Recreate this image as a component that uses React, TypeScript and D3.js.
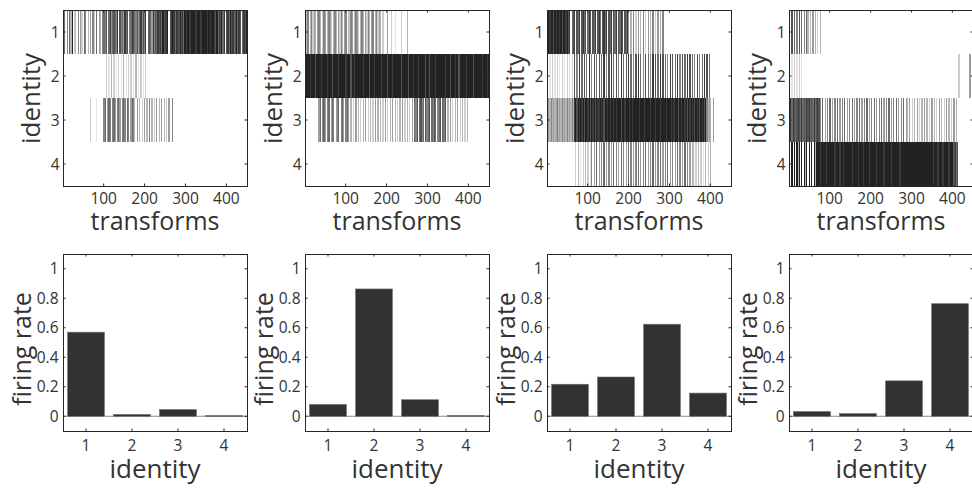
import React from "react";
import * as d3 from "d3";

// ---------- data ----------
const N_TRANSFORMS = 450;
const BIN = 3; // each raster character covers 3 consecutive transforms
const z = (n: number) => "0".repeat(n);

const transformTicks = [100, 200, 300, 400];
const identities = [1, 2, 3, 4];
const rateTicks = [0, 0.2, 0.4, 0.6, 0.8, 1];

// response intensity (0 = none, 9 = maximal) per identity row, per 3-transform bin
const raster1 = [
  "4605063902" + "30504206503040520604305" + "6570684676" + "5807564867" + "0568765746" + "8575806764" + "8576" +
    "8786978890" + "7898688797" + "8698" + "9989999899" + "9899998998" + "99" + "8796879680" + "7869786796" + "8706879",
  z(35) + "2010302010" + "2010301020" + "2010301020" + "1020" + z(81),
  z(22) + "20000100000" + "5604650564" + "0564056506" + "50465" + "3040302040" + "3050302040" + "3040302040" + "05" + z(60),
  z(150),
];
const raster2 = [
  "4350352430" + "4530254035" + "4203530425" + "3045032540" + "3542035304" + "2530450352" + "43" +
    "0200040020" + "0100002000" + "03" + z(66),
  "9999899979" + "9998999989" + "9979999899" + "9998999799" + "8999999899" + "9979998999" + "9989999799" +
    "9899999979" + "9999799989" + "9989999979" + "9799998999" + "9999899979" + "9989979999" + "9899999799" + "9999899989",
  z(11) + "4605640560" + "4650456056" + "405640" + "3020403020" + "3040203020" + "4030302040" + "2030403020" +
    "3040203020" + "40" + "6570675607" + "5670657605" + "6706570" + "3040203040" + "20302030" + z(16),
  z(150),
];
const raster3 = [
  "9989979899" + "8979989" + "7806780768" + "0786706870" + "7680786078" + "6807680768" + "076870768" +
    "4030502040" + "3050204030" + "5020403050" + z(54),
  "2010201020" + "1020102010" + "20" + "7050806070" + "6080507060" + "7060805070" + "8060705080" + "6070806050" +
    "7080605070" + "6050807060" + "8070605080" + "7060805070" + "6080706050" + "7050608070" + "60" + z(16),
  "3435343453" + "4353435343" + "53" + "8979898979" + "9897989798" + "8989799898" + "9989899979" + "9899989899" +
    "9998999899" + "9989998999" + "8999989998" + "9899979899" + "8979898979" + "89798979" + "5343040" + z(13),
  z(23) + "2030102030201" + "5040604050" + "6040504060" + "5040605040" + "6050405060" + "4050604050" +
    "6040506040" + "5060405040" + "6050406050" + "403" + "302030201030203" + z(16),
];
const raster4 = [
  "6070605070" + "60506" + "303040302030" + z(123),
  "201020102010" + z(126) + "2" + z(8) + "4" + "00",
  "7868767876" + "8676878676" + "86787" + "5060405060" + "4050604050" + "6040506040" + "5060405060" +
    "4050604050" + "6040506040" + "5060405060" + "4" + "3040203040" + "2030403020" + "4030204030" + "2040302040" + "3" + z(13),
  "9090909390" + "9093909090" + "939" + "9989999899" + "9999899989" + "9899999989" + "9998999899" + "9989999989" +
    "9999899999" + "8999999899" + "9999999999" + "9999999999" + "9999899989" + "9989999899" + "97867" + z(12),
];

const rates1 = [0.57, 0.012, 0.045, 0.004];
const rates2 = [0.08, 0.863, 0.112, 0.005];
const rates3 = [0.217, 0.266, 0.624, 0.157];
const rates4 = [0.032, 0.018, 0.24, 0.763];

const rasters = [raster1, raster2, raster3, raster4];
const rates = [rates1, rates2, rates3, rates4];

// ---------- layout ----------
const PANEL_LEFT = [63, 305, 547, 789];
const PANEL_W = 184;
const TOP = { y0: 10, y1: 186 };
const BOT = { y0: 254, y1: 431 };
const FONT = "'Open Sans', sans-serif";
const INK = "#262626";
const TEXT = "#333333";
const TICK = 2.5;
const TICK_FS = 15.5;
const LABEL_FS = 25;
const WEIGHT = 400;

const grayOf = (v: number) => {
  const g = Math.round(255 - (v * (255 - 34)) / 9);
  return d3.rgb(g, g, g).toString();
};

function Box({ x0, x1, y0, y1 }: { x0: number; x1: number; y0: number; y1: number }) {
  return (
    <rect x={x0 + 0.5} y={y0 + 0.5} width={x1 - x0} height={y1 - y0} fill="none" stroke={INK} strokeWidth={1} />
  );
}

function RasterPanel({ left, rows }: { left: number; rows: string[] }) {
  const x = d3.scaleLinear().domain([0.5, N_TRANSFORMS + 0.5]).range([left, left + PANEL_W]);
  const y = d3.scaleLinear().domain([0.5, 4.5]).range([TOP.y0, TOP.y1]);
  const cx = (left + left + PANEL_W) / 2;
  return (
    <g>
      <g shapeRendering="crispEdges">
        {rows.map((s, i) =>
          s.split("").map((ch, k) => {
            const v = +ch;
            if (!v) return null;
            const a = x(k * BIN + 0.5);
            const b = x(k * BIN + BIN + 0.5);
            return (
              <rect
                key={i + "-" + k}
                x={a}
                width={b - a}
                y={y(i + 0.5)}
                height={y(i + 1.5) - y(i + 0.5)}
                fill={grayOf(v)}
              />
            );
          })
        )}
      </g>
      <Box x0={left} x1={left + PANEL_W} y0={TOP.y0} y1={TOP.y1} />
      {transformTicks.map((t) => (
        <g key={"xt" + t}>
          <line x1={x(t)} x2={x(t)} y1={TOP.y1} y2={TOP.y1 - TICK} stroke={INK} />
          <line x1={x(t)} x2={x(t)} y1={TOP.y0} y2={TOP.y0 + TICK} stroke={INK} />
          <text x={x(t)} y={204} textAnchor="middle" fontSize={TICK_FS} fontWeight={WEIGHT} fontFamily={FONT} fill={TEXT}>
            {t}
          </text>
        </g>
      ))}
      {identities.map((id) => (
        <g key={"yt" + id}>
          <line x1={left} x2={left + TICK} y1={y(id)} y2={y(id)} stroke={INK} />
          <line x1={left + PANEL_W} x2={left + PANEL_W - TICK} y1={y(id)} y2={y(id)} stroke={INK} />
          <text x={left - 3.5} y={y(id)} dy="0.36em" textAnchor="end" fontSize={TICK_FS} fontWeight={WEIGHT} fontFamily={FONT} fill={TEXT}>
            {id}
          </text>
        </g>
      ))}
      <text x={cx} y={229.5} textAnchor="middle" fontSize={LABEL_FS} fontWeight={WEIGHT} fontFamily={FONT} fill={TEXT}>
        transforms
      </text>
      <text
        transform={`translate(${left - 23.5},${98.5}) rotate(-90)`}
        textAnchor="middle"
        fontSize={LABEL_FS + 1}
        fontWeight={WEIGHT}
        fontFamily={FONT}
        fill={TEXT}
      >
        identity
      </text>
    </g>
  );
}

function RatePanel({ left, values }: { left: number; values: number[] }) {
  const x = d3.scaleLinear().domain([0.5, 4.5]).range([left, left + PANEL_W]);
  const y = d3.scaleLinear().domain([-0.1, 1.1]).range([BOT.y1, BOT.y0]);
  const cx = (left + left + PANEL_W) / 2;
  const bw = x(0.8) - x(0);
  return (
    <g>
      <line x1={left} x2={left + PANEL_W} y1={y(0)} y2={y(0)} stroke="#8a8a8a" strokeWidth={1} />
      {values.map((v, i) => (
        <rect
          key={"b" + i}
          x={x(identities[i]) - bw / 2}
          width={bw}
          y={y(Math.max(v, 0))}
          height={Math.max(y(0) - y(Math.max(v, 0)), 0.8)}
          fill="#323232"
          stroke="#6a6a6a"
          strokeWidth={0.6}
        />
      ))}
      <Box x0={left} x1={left + PANEL_W} y0={BOT.y0} y1={BOT.y1} />
      {identities.map((id) => (
        <g key={"xt" + id}>
          <line x1={x(id)} x2={x(id)} y1={BOT.y1} y2={BOT.y1 - TICK} stroke={INK} />
          <line x1={x(id)} x2={x(id)} y1={BOT.y0} y2={BOT.y0 + TICK} stroke={INK} />
          <text x={x(id)} y={451} textAnchor="middle" fontSize={TICK_FS} fontWeight={WEIGHT} fontFamily={FONT} fill={TEXT}>
            {id}
          </text>
        </g>
      ))}
      {rateTicks.map((t) => (
        <g key={"yt" + t}>
          <line x1={left} x2={left + TICK} y1={y(t)} y2={y(t)} stroke={INK} />
          <line x1={left + PANEL_W} x2={left + PANEL_W - TICK} y1={y(t)} y2={y(t)} stroke={INK} />
          <text x={left - 4.5} y={y(t)} dy="0.36em" textAnchor="end" fontSize={TICK_FS} fontWeight={WEIGHT} fontFamily={FONT} fill={TEXT}>
            {String(t)}
          </text>
        </g>
      ))}
      <text x={cx} y={478} textAnchor="middle" fontSize={LABEL_FS + 1} fontWeight={WEIGHT} fontFamily={FONT} fill={TEXT}>
        identity
      </text>
      <text
        transform={`translate(${left - 32},${349}) rotate(-90)`}
        textAnchor="middle"
        fontSize={LABEL_FS}
        fontWeight={WEIGHT}
        fontFamily={FONT}
        fill={TEXT}
      >
        firing rate
      </text>
    </g>
  );
}

export default function App() {
  return (
    <svg
      width={972}
      height={488}
      style={{ position: "absolute", left: 0, top: 0, background: "#fff", overflow: "hidden" }}
    >
      <rect x={0} y={0} width={972} height={488} fill="#fff" />
      {PANEL_LEFT.map((l, i) => (
        <RasterPanel key={"r" + i} left={l} rows={rasters[i]} />
      ))}
      {PANEL_LEFT.map((l, i) => (
        <RatePanel key={"p" + i} left={l} values={rates[i]} />
      ))}
    </svg>
  );
}
